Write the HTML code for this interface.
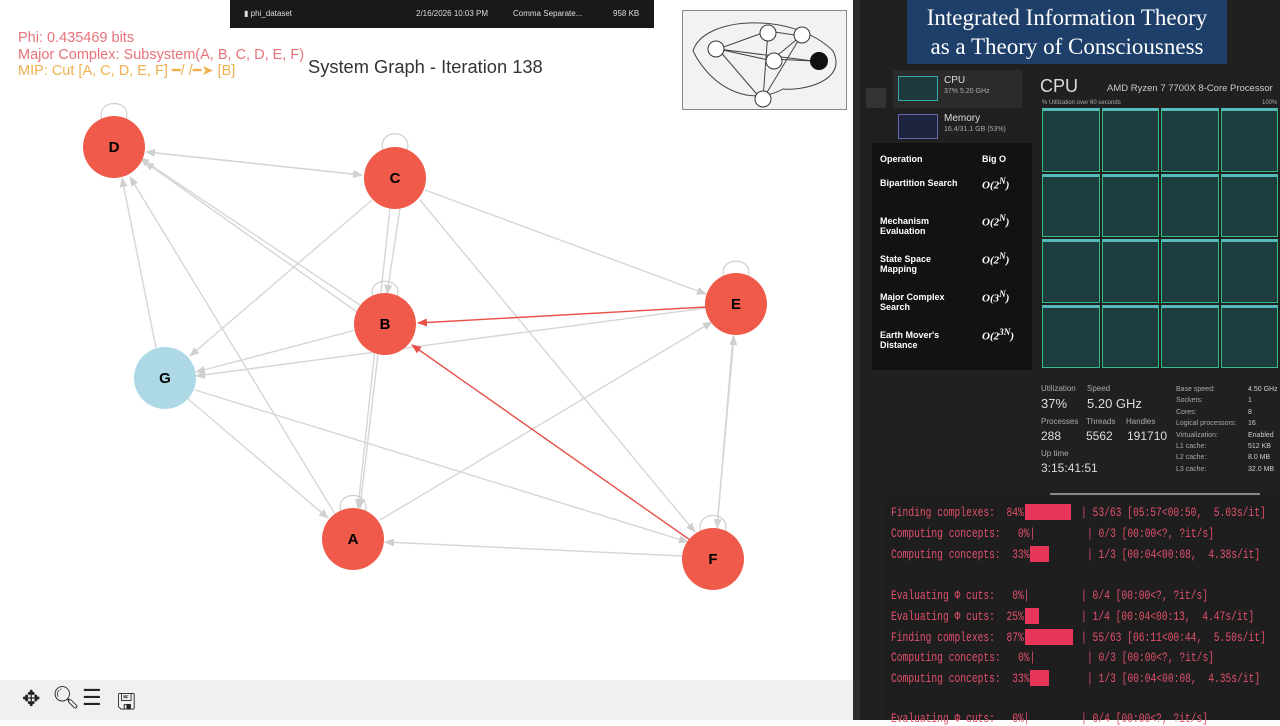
<!DOCTYPE html><html><head><meta charset="utf-8"><style>
*{margin:0;padding:0;box-sizing:border-box}
body{width:1280px;height:720px;overflow:hidden;background:#fff;position:relative;font-family:"Liberation Sans",sans-serif}
.a{position:absolute}
.t{position:absolute;font-family:"Liberation Mono",monospace;font-size:13px;color:#e2506c;white-space:pre;transform:scaleX(0.74);transform-origin:0 0;line-height:15px}
.bar{position:absolute;background:#e8365a;height:16px}
.w{color:#fff;font-weight:bold;font-size:9px;position:absolute}
.s{color:#aaa;font-size:8px;position:absolute}
</style></head><body>
<svg class="a" style="left:0;top:0" width="855" height="680">
<defs>
<marker id="g" markerWidth="10" markerHeight="8" refX="9" refY="4" orient="auto" markerUnits="userSpaceOnUse"><path d="M0,0L10,4L0,8z" fill="#cfcfcf"/></marker>
<marker id="r" markerWidth="10" markerHeight="8" refX="9" refY="4" orient="auto" markerUnits="userSpaceOnUse"><path d="M0,0L10,4L0,8z" fill="#e8514a"/></marker>
</defs>
<g stroke="#d6d6d6" stroke-width="1.4" fill="none" marker-end="url(#g)">
<line x1="148" y1="152" x2="362" y2="175"/><line x1="362" y1="175" x2="146" y2="152"/>
<line x1="357" y1="312" x2="145" y2="162"/>
<line x1="360" y1="305" x2="140" y2="158"/>
<line x1="156" y1="348" x2="122" y2="178"/>
<line x1="335" y1="514" x2="130" y2="177"/>
<line x1="372" y1="200" x2="190" y2="356"/>
<line x1="390" y1="208" x2="358" y2="508"/>
<line x1="420" y1="200" x2="695" y2="532"/>
<line x1="425" y1="190" x2="706" y2="294"/>
<line x1="356" y1="330" x2="196" y2="372"/>
<line x1="706" y1="308" x2="196" y2="376"/>
<line x1="378" y1="354" x2="360" y2="508"/>
<line x1="187" y1="398" x2="328" y2="518"/>
<line x1="195" y1="390" x2="688" y2="542"/>
<line x1="380" y1="520" x2="712" y2="322"/>
<line x1="683" y1="556" x2="385" y2="542"/>
<line x1="733" y1="336" x2="717" y2="528"/><line x1="717" y1="528" x2="734" y2="336"/>
<line x1="400" y1="208" x2="387" y2="294"/>
</g>
<line x1="706" y1="307" x2="418" y2="323" stroke="#e8514a" stroke-width="1.4" marker-end="url(#r)"/>
<line x1="690" y1="540" x2="412" y2="345" stroke="#e8514a" stroke-width="1.4" marker-end="url(#r)"/>
<g stroke="#d0d0d0" stroke-width="1.2" fill="none">
<path d="M102,120 C95,98 133,98 126,120"/><path d="M383,151 C376,128 414,128 407,151"/><path d="M373,297 C366,276 404,276 397,297"/>
<path d="M724,277 C717,256 755,256 748,277"/><path d="M341,512 C334,490 372,490 365,512"/><path d="M701,532 C694,510 732,510 725,532"/>
</g>
<g font-family="Liberation Sans" font-weight="bold" font-size="15" text-anchor="middle">
<circle cx="114" cy="147" r="31" fill="#f05a4a"/><text x="114" y="152">D</text>
<circle cx="395" cy="178" r="31" fill="#f05a4a"/><text x="395" y="183">C</text>
<circle cx="385" cy="324" r="31" fill="#f05a4a"/><text x="385" y="329">B</text>
<circle cx="736" cy="304" r="31" fill="#f05a4a"/><text x="736" y="309">E</text>
<circle cx="165" cy="378" r="31" fill="#add8e6"/><text x="165" y="383">G</text>
<circle cx="353" cy="539" r="31" fill="#f05a4a"/><text x="353" y="544">A</text>
<circle cx="713" cy="559" r="31" fill="#f05a4a"/><text x="713" y="564">F</text>
</g>
</svg>
<div class="a" style="left:18px;top:30px;font-size:14.5px;line-height:16.5px;color:#e8727a">Phi: 0.435469 bits<br>Major Complex: Subsystem(A, B, C, D, E, F)<br><span style="color:#f0b050">MIP: Cut [A, C, D, E, F] ━/ /━➤ [B]</span></div>
<div class="a" style="left:308px;top:56px;font-size:18.3px;color:#333">System Graph - Iteration 138</div>
<div class="a" style="left:230px;top:0;width:424px;height:28px;background:#191919;color:#ddd;font-size:8px">
<span class="a" style="left:14px;top:9px">▮ phi_dataset</span><span class="a" style="left:186px;top:9px">2/16/2026 10:03 PM</span><span class="a" style="left:283px;top:9px">Comma Separate...</span><span class="a" style="left:383px;top:9px">958 KB</span></div>
<div class="a" style="left:682px;top:10px;width:165px;height:100px;background:#f2f2f2;border:1px solid #888">
<svg width="163" height="98"><g fill="none" stroke="#444" stroke-width="1"><path d="M10,40 C20,5 110,0 150,40 C165,70 120,80 100,78 C70,95 30,80 10,40z"/>
<line x1="35" y1="38" x2="130" y2="50"/><line x1="35" y1="38" x2="85" y2="20"/><line x1="85" y1="20" x2="118" y2="25"/><line x1="35" y1="38" x2="78" y2="88"/><line x1="90" y1="48" x2="130" y2="50"/><line x1="118" y1="25" x2="90" y2="48"/><line x1="85" y1="20" x2="80" y2="88"/><line x1="35" y1="38" x2="90" y2="50"/><line x1="118" y1="25" x2="80" y2="88"/></g>
<g fill="#fff" stroke="#333"><circle cx="33" cy="38" r="8"/><circle cx="85" cy="22" r="8"/><circle cx="119" cy="24" r="8"/><circle cx="91" cy="50" r="8"/><circle cx="80" cy="88" r="8"/></g><circle cx="136" cy="50" r="9" fill="#111"/></svg></div>
<div class="a" style="left:0;top:680px;width:855px;height:40px;background:#f0f0f0;font-size:22px;color:#222">
<span class="a" style="left:22px;top:6px">✥</span><span class="a" style="left:52px;top:5px">🔍︎</span><span class="a" style="left:82px;top:5px">☰</span><span class="a" style="left:117px;top:5px">🖫</span></div>
<div class="a" style="left:853px;top:0;width:427px;height:720px;background:#202020"></div>
<div class="a" style="left:853px;top:0;width:7px;height:720px;background:#2c2c2c"></div>
<div class="a" style="left:866px;top:88px;width:20px;height:20px;background:#333"></div>
<div class="a" style="left:893px;top:70px;width:129px;height:38px;background:#2b2b2b"></div>
<div class="a" style="left:898px;top:76px;width:40px;height:25px;border:1px solid #3aa;background:#1e3a3c"></div>
<div class="a" style="left:944px;top:75px;color:#ddd;font-size:10px">CPU</div><div class="a" style="left:944px;top:88px;color:#aaa;font-size:7px">37% 5.20 GHz</div>
<div class="a" style="left:898px;top:114px;width:40px;height:25px;border:1px solid #66a;background:#1e2440"></div>
<div class="a" style="left:944px;top:113px;color:#ddd;font-size:10px">Memory</div><div class="a" style="left:944px;top:126px;color:#aaa;font-size:7px">16.4/31.1 GB (53%)</div>
<div class="a" style="left:1040px;top:76px;color:#ddd;font-size:18px">CPU</div>
<div class="a" style="left:1107px;top:83px;color:#ccc;font-size:9.5px">AMD Ryzen 7 7700X 8-Core Processor</div>
<div class="a" style="left:1042px;top:100px;color:#aaa;font-size:6px">% Utilization over 60 seconds</div><div class="a" style="left:1262px;top:100px;color:#aaa;font-size:6px">100%</div>
<div class="a" style="left:1042px;top:108px;width:236px;height:260px;display:grid;grid-template-columns:repeat(4,1fr);grid-template-rows:repeat(4,1fr);gap:2px">
<div style="background:#1d3c3e;border:1px solid #3b8;border-top:3px solid #5bb"></div><div style="background:#1d3c3e;border:1px solid #3b8;border-top:3px solid #5bb"></div><div style="background:#1d3c3e;border:1px solid #3b8;border-top:3px solid #5bb"></div><div style="background:#1d3c3e;border:1px solid #3b8;border-top:3px solid #5bb"></div>
<div style="background:#1d3c3e;border:1px solid #3b8;border-top:3px solid #5bb"></div><div style="background:#1d3c3e;border:1px solid #3b8;border-top:3px solid #5bb"></div><div style="background:#1d3c3e;border:1px solid #3b8;border-top:3px solid #5bb"></div><div style="background:#1d3c3e;border:1px solid #3b8;border-top:3px solid #5bb"></div>
<div style="background:#1d3c3e;border:1px solid #3b8;border-top:3px solid #5bb"></div><div style="background:#1d3c3e;border:1px solid #3b8;border-top:3px solid #5bb"></div><div style="background:#1d3c3e;border:1px solid #3b8;border-top:3px solid #5bb"></div><div style="background:#1d3c3e;border:1px solid #3b8;border-top:3px solid #5bb"></div>
<div style="background:#1d3c3e;border:1px solid #3b8;border-top:3px solid #5bb"></div><div style="background:#1d3c3e;border:1px solid #3b8;border-top:3px solid #5bb"></div><div style="background:#1d3c3e;border:1px solid #3b8;border-top:3px solid #5bb"></div><div style="background:#1d3c3e;border:1px solid #3b8;border-top:3px solid #5bb"></div>
</div>
<div class="a" style="left:872px;top:143px;width:160px;height:227px;background:#121214">
<div class="w" style="left:8px;top:11px">Operation</div><div class="w" style="left:110px;top:11px">Big O</div>
<div class="w" style="left:8px;top:35px">Bipartition Search</div><div class="w" style="left:110px;top:33px;font-family:'Liberation Serif';font-style:italic;font-size:11px">O(2<sup>N</sup>)</div>
<div class="w" style="left:8px;top:73px">Mechanism<br>Evaluation</div><div class="w" style="left:110px;top:70px;font-family:'Liberation Serif';font-style:italic;font-size:11px">O(2<sup>N</sup>)</div>
<div class="w" style="left:8px;top:111px">State Space<br>Mapping</div><div class="w" style="left:110px;top:108px;font-family:'Liberation Serif';font-style:italic;font-size:11px">O(2<sup>N</sup>)</div>
<div class="w" style="left:8px;top:149px">Major Complex<br>Search</div><div class="w" style="left:110px;top:146px;font-family:'Liberation Serif';font-style:italic;font-size:11px">O(3<sup>N</sup>)</div>
<div class="w" style="left:8px;top:187px">Earth Mover's<br>Distance</div><div class="w" style="left:110px;top:184px;font-family:'Liberation Serif';font-style:italic;font-size:11px">O(2<sup>3N</sup>)</div>
</div>
<div class="a" style="left:907px;top:0;width:320px;height:64px;background:#1e3f6a;color:#fff;font-family:'Liberation Serif',serif;font-size:23px;line-height:29px;text-align:center;padding-top:3px">Integrated Information Theory<br>as a Theory of Consciousness</div>
<div class="s" style="left:1041px;top:384px">Utilization</div><div class="s" style="left:1087px;top:384px">Speed</div>
<div class="a" style="left:1041px;top:396px;color:#ddd;font-size:13px">37%</div><div class="a" style="left:1087px;top:396px;color:#ddd;font-size:13px">5.20 GHz</div>
<div class="s" style="left:1041px;top:417px">Processes</div><div class="s" style="left:1086px;top:417px">Threads</div><div class="s" style="left:1126px;top:417px">Handles</div>
<div class="a" style="left:1041px;top:429px;color:#ddd;font-size:12px">288</div><div class="a" style="left:1086px;top:429px;color:#ddd;font-size:12px">5562</div><div class="a" style="left:1127px;top:429px;color:#ddd;font-size:12px">191710</div>
<div class="s" style="left:1041px;top:449px">Up time</div><div class="a" style="left:1041px;top:461px;color:#ddd;font-size:12px">3:15:41:51</div>
<div class="s" style="left:1176px;top:384px;line-height:11.4px;font-size:7px">Base speed:<br>Sockets:<br>Cores:<br>Logical processors:<br>Virtualization:<br>L1 cache:<br>L2 cache:<br>L3 cache:</div>
<div class="s" style="left:1248px;top:384px;line-height:11.4px;font-size:7px;color:#ccc">4.50 GHz<br>1<br>8<br>16<br>Enabled<br>512 KB<br>8.0 MB<br>32.0 MB</div>
<div class="a" style="left:883px;top:497px;width:397px;height:223px;background:#1e1e1e"></div>
<div class="a" style="left:1050px;top:493px;width:210px;height:2px;background:#888"></div>
<div class="t" style="left:891px;top:505px">Finding complexes:  84%|</div><div class="bar" style="left:1025px;top:504px;width:46px"></div><div class="t" style="left:1081px;top:505px">| 53/63 [05:57&lt;00:50,  5.03s/it]</div>
<div class="t" style="left:891px;top:526px">Computing concepts:   0%|</div><div class="t" style="left:1087px;top:526px">| 0/3 [00:00&lt;?, ?it/s]</div>
<div class="t" style="left:891px;top:547px">Computing concepts:  33%|</div><div class="bar" style="left:1030px;top:546px;width:19px"></div><div class="t" style="left:1087px;top:547px">| 1/3 [00:04&lt;00:08,  4.38s/it]</div>
<div class="t" style="left:891px;top:588px">Evaluating Φ cuts:   0%|</div><div class="t" style="left:1081px;top:588px">| 0/4 [00:00&lt;?, ?it/s]</div>
<div class="t" style="left:891px;top:609px">Evaluating Φ cuts:  25%|</div><div class="bar" style="left:1025px;top:608px;width:14px"></div><div class="t" style="left:1081px;top:609px">| 1/4 [00:04&lt;00:13,  4.47s/it]</div>
<div class="t" style="left:891px;top:630px">Finding complexes:  87%|</div><div class="bar" style="left:1025px;top:629px;width:48px"></div><div class="t" style="left:1081px;top:630px">| 55/63 [06:11&lt;00:44,  5.50s/it]</div>
<div class="t" style="left:891px;top:650px">Computing concepts:   0%|</div><div class="t" style="left:1087px;top:650px">| 0/3 [00:00&lt;?, ?it/s]</div>
<div class="t" style="left:891px;top:671px">Computing concepts:  33%|</div><div class="bar" style="left:1030px;top:670px;width:19px"></div><div class="t" style="left:1087px;top:671px">| 1/3 [00:04&lt;00:08,  4.35s/it]</div>
<div class="t" style="left:891px;top:711px">Evaluating Φ cuts:   0%|</div><div class="t" style="left:1081px;top:711px">| 0/4 [00:00&lt;?, ?it/s]</div>
</body></html>
